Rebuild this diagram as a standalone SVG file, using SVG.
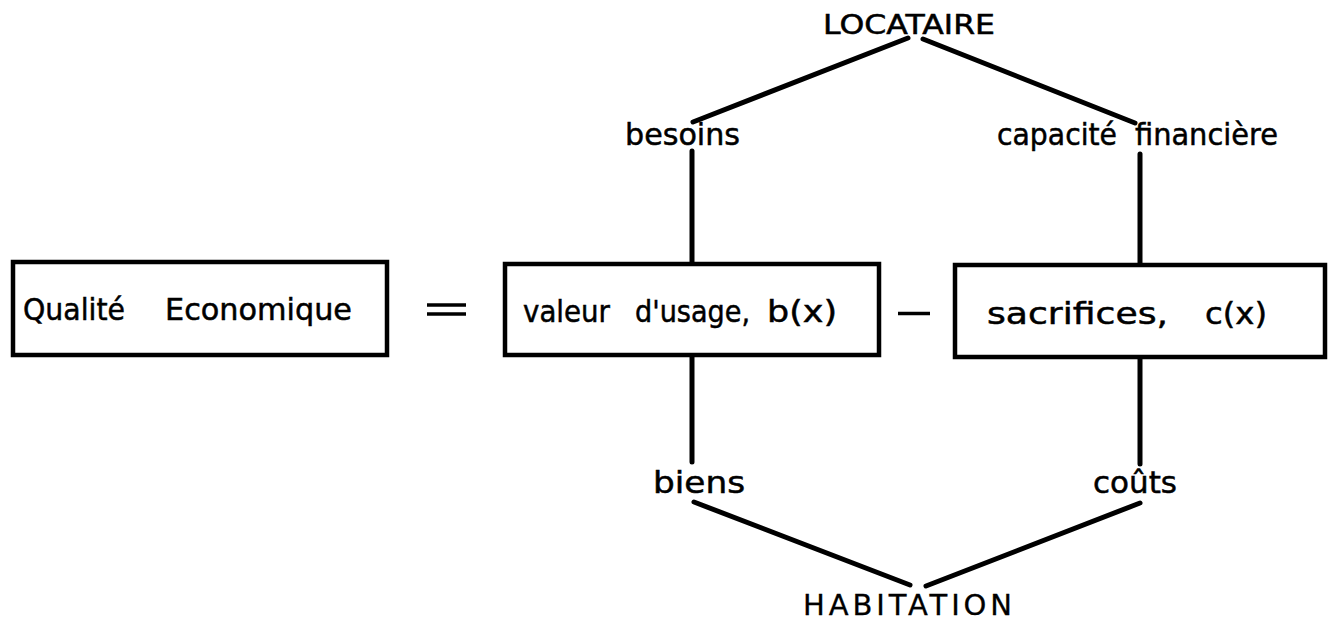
<svg xmlns="http://www.w3.org/2000/svg" width="1331" height="625" viewBox="0 0 1331 625">
<style>
.box{fill:#fff;stroke:#000;stroke-width:4.5}
.ln{stroke:#000;stroke-width:5;stroke-linecap:round;fill:none}
.t{font-family:"DejaVu Sans","Liberation Sans",Arial,sans-serif;font-size:30px;fill:#000;stroke:#000;stroke-width:0.5}
.cap{font-family:"DejaVu Sans","Liberation Sans",Arial,sans-serif;font-size:26px;fill:#000;stroke:#000;stroke-width:0.5}
.hab{font-family:"DejaVu Sans","Liberation Sans",Arial,sans-serif;font-size:29px;fill:#000;stroke:#000;stroke-width:0.3}
</style>
<rect width="1331" height="625" fill="#fff"/>
<g id="connectors">
<line class="ln" x1="908" y1="38" x2="693" y2="122"/>
<line class="ln" x1="923" y1="39" x2="1135" y2="123"/>
<line class="ln" x1="692" y1="151" x2="692" y2="264"/>
<line class="ln" x1="1140" y1="154" x2="1140" y2="265"/>
<line class="ln" x1="692" y1="355" x2="692" y2="462"/>
<line class="ln" x1="1140" y1="357" x2="1140" y2="464"/>
<line class="ln" x1="694" y1="502" x2="910" y2="585"/>
<line class="ln" x1="1140" y1="503" x2="926" y2="586"/>
</g>
<g id="operators">
<line x1="427" y1="305" x2="466" y2="305" stroke="#000" stroke-width="3.5"/>
<line x1="427" y1="314" x2="466" y2="314" stroke="#000" stroke-width="3.5"/>
<line x1="898" y1="313.5" x2="930" y2="313.5" stroke="#000" stroke-width="3.5"/>
</g>
<g id="qualite">
<rect class="box" x="13" y="262" width="374" height="93"/>
<text class="t" y="320"><tspan x="23" textLength="102" lengthAdjust="spacingAndGlyphs">Qualité</tspan><tspan x="165" textLength="187" lengthAdjust="spacingAndGlyphs">Economique</tspan></text>
</g>
<g id="valeur">
<rect class="box" x="505" y="264" width="374" height="91"/>
<text class="t" y="322"><tspan x="523" textLength="87" lengthAdjust="spacingAndGlyphs">valeur</tspan><tspan x="635" textLength="115" lengthAdjust="spacingAndGlyphs">d'usage,</tspan><tspan x="767" textLength="70" lengthAdjust="spacingAndGlyphs">b(x)</tspan></text>
</g>
<g id="sacrifices">
<rect class="box" x="955" y="265" width="370" height="92"/>
<text class="t" y="324"><tspan x="987" textLength="181" lengthAdjust="spacingAndGlyphs">sacrifices,</tspan><tspan x="1205" textLength="62" lengthAdjust="spacingAndGlyphs">c(x)</tspan></text>
</g>
<g id="locataire">
<text class="cap" x="823" y="34" textLength="172" lengthAdjust="spacingAndGlyphs">LOCATAIRE</text>
</g>
<g id="besoins">
<text class="t" x="625" y="145" textLength="115" lengthAdjust="spacingAndGlyphs">besoins</text>
</g>
<g id="capacite">
<text class="t" y="145"><tspan x="997" textLength="120" lengthAdjust="spacingAndGlyphs">capacité</tspan><tspan x="1135" textLength="143" lengthAdjust="spacingAndGlyphs">financière</tspan></text>
</g>
<g id="biens">
<text class="t" x="653" y="493" textLength="92" lengthAdjust="spacingAndGlyphs">biens</text>
</g>
<g id="couts">
<text class="t" x="1093" y="493" textLength="84" lengthAdjust="spacingAndGlyphs">coûts</text>
</g>
<g id="habitation">
<text class="hab" x="803" y="615" textLength="209" lengthAdjust="spacing">HABITATION</text>
</g>
</svg>
